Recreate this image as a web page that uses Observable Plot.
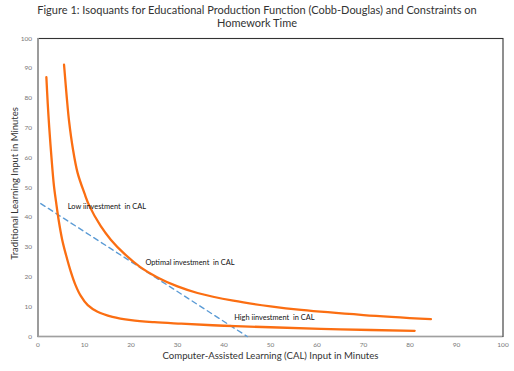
<!DOCTYPE html>
<html>
<head>
<meta charset="utf-8">
<script src="https://cdn.jsdelivr.net/npm/d3@7"></script>
<script src="https://cdn.jsdelivr.net/npm/@observablehq/plot@0.6"></script>
<style>
  body { margin: 0; background: #fff; font-family: Lato, "Open Sans", sans-serif; }
  #title { height: 29px; box-sizing: border-box; padding-top: 3px; text-align: center; font-size: 11px; line-height: 13px; color: #333; width: 514px; }
  #chart svg { display: block; }
</style>
</head>
<body>
<div id="title">Figure 1: Isoquants for Educational Production Function (Cobb-Douglas) and Constraints on<br>Homework Time</div>
<div id="chart"></div>
<script>
// Optimal isoquant (outer curve)
const outerX = [5.6, 6.2, 6.7, 7.5, 8.5, 10, 11, 13.5, 15.7, 18.6, 22, 25.7, 30, 34.3, 42, 50, 56.6, 70, 84.5];
const outerY = [91.2, 80, 72, 63, 55, 48, 44, 37, 32.4, 27.7, 23.3, 19.8, 16.8, 14.6, 12, 10.1, 8.9, 7.2, 5.8];
// Lower isoquant (inner curve)
const innerX = [1.8, 2.1, 2.4, 2.9, 3.4, 3.9, 4.5, 5.2, 6, 7.1, 8, 9.2, 10.7, 12.8, 16, 20, 25, 30.8, 40, 50, 65, 81];
const innerY = [87, 78, 70.5, 60, 51, 45, 38.5, 32.5, 27.5, 21.5, 17.5, 13.6, 10.5, 8.3, 6.6, 5.5, 4.8, 4.3, 3.6, 3.1, 2.4, 1.9];
// Homework time constraint (dashed)
const budgetX = [0.6, 45];
const budgetY = [44.6, 0];
// Annotations
const labelText = ["Low iinvestment  in CAL", "Optimal investment  in CAL", "High iinvestment  in CAL"];
const labelX = [6.4, 23.1, 42.2];
const labelY = [43.5, 24.7, 6.5];
// Ticks
const xTicks = [0, 10, 20, 30, 40, 50, 60, 70, 80, 90, 100];
const yTicks = [0, 10, 20, 30, 40, 50, 60, 70, 80, 90, 100];
const xTitle = "Computer-Assisted Learning (CAL) Input in Minutes";
const yTitle = "Traditional Learning Input in Minutes";

const outer = outerX.map((x, i) => ({x, y: outerY[i]}));
const inner = innerX.map((x, i) => ({x, y: innerY[i]}));
const budget = budgetX.map((x, i) => ({x, y: budgetY[i]}));
const labels = labelText.map((t, i) => ({t, x: labelX[i], y: labelY[i]}));

const orange = "#fb6e12";

const chart = Plot.plot({
  width: 514,
  height: 342,
  marginTop: 9,
  marginLeft: 37.5,
  marginRight: 11.5,
  marginBottom: 35,
  style: {fontFamily: "Lato, 'Open Sans', sans-serif", background: "#fff"},
  x: {domain: [0, 100], label: null},
  y: {domain: [0, 100], label: null},
  marks: [
    Plot.axisX({ticks: xTicks, tickSize: 0, tickPadding: 6, fontSize: 6.5, fill: "#777", label: null}),
    Plot.axisY({ticks: yTicks, tickSize: 0, tickPadding: 6, fontSize: 6.5, fill: "#777", label: null}),
    Plot.frame({stroke: "#333", strokeWidth: 1.1}),
    Plot.ruleX([0], {stroke: "#a0a0a0", strokeWidth: 1.6}),
    Plot.ruleY([0], {stroke: "#a0a0a0", strokeWidth: 1.6}),
    Plot.line(budget, {x: "x", y: "y", stroke: "#5b9bd5", strokeWidth: 1.4, strokeDasharray: "5,4"}),
    Plot.line(inner, {x: "x", y: "y", stroke: orange, strokeWidth: 2.3, curve: "catmull-rom"}),
    Plot.line(outer, {x: "x", y: "y", stroke: orange, strokeWidth: 2.3, curve: "catmull-rom"}),
    Plot.text(labels, {x: "x", y: "y", text: "t", textAnchor: "start", fontSize: 7.4, fill: "#111"}),
    Plot.text([xTitle], {frameAnchor: "bottom", dy: 22, fontSize: 9.6, fill: "#333", text: d => d}),
    Plot.text([yTitle], {frameAnchor: "left", textAnchor: "middle", dx: -23.5, dy: -4, rotate: -90, fontSize: 9.5, fill: "#333", text: d => d})
  ]
});
document.getElementById("chart").appendChild(chart);
</script>
</body>
</html>
